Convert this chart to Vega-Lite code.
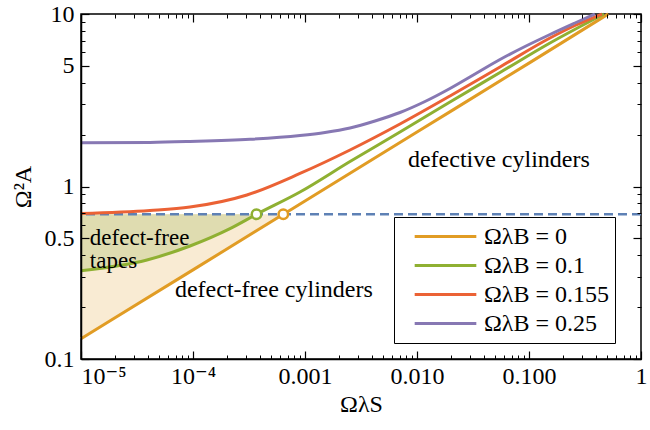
{
  "$schema": "https://vega.github.io/schema/vega-lite/v6.json",
  "width": 560,
  "height": 345,
  "autosize": {"type": "none"},
  "padding": {"left": 81, "top": 14, "right": 9, "bottom": 71},
  "background": "white",
  "datasets": {
    "curves": [
      {"series": "ΩλB = 0", "x": 0.00001, "y": 0.131},
      {"series": "ΩλB = 0", "x": 0.0001, "y": 0.3287},
      {"series": "ΩλB = 0", "x": 0.00064, "y": 0.69},
      {"series": "ΩλB = 0", "x": 0.001, "y": 0.8248},
      {"series": "ΩλB = 0", "x": 0.01, "y": 2.069},
      {"series": "ΩλB = 0", "x": 0.1, "y": 5.19},
      {"series": "ΩλB = 0", "x": 0.51, "y": 10},
      {"series": "ΩλB = 0.1", "x": 0.00001, "y": 0.325},
      {"series": "ΩλB = 0.1", "x": 0.0000388, "y": 0.375},
      {"series": "ΩλB = 0.1", "x": 0.000094, "y": 0.452},
      {"series": "ΩλB = 0.1", "x": 0.000214, "y": 0.57},
      {"series": "ΩλB = 0.1", "x": 0.000369, "y": 0.69},
      {"series": "ΩλB = 0.1", "x": 0.000902, "y": 0.929},
      {"series": "ΩλB = 0.1", "x": 0.002523, "y": 1.396},
      {"series": "ΩλB = 0.1", "x": 0.00705, "y": 2.07},
      {"series": "ΩλB = 0.1", "x": 0.0197, "y": 3.09},
      {"series": "ΩλB = 0.1", "x": 0.0551, "y": 4.58},
      {"series": "ΩλB = 0.1", "x": 0.154, "y": 6.79},
      {"series": "ΩλB = 0.1", "x": 0.467, "y": 10},
      {"series": "ΩλB = 0.155", "x": 0.00001, "y": 0.697},
      {"series": "ΩλB = 0.155", "x": 0.0000413, "y": 0.726},
      {"series": "ΩλB = 0.155", "x": 0.000094, "y": 0.76},
      {"series": "ΩλB = 0.155", "x": 0.000303, "y": 0.893},
      {"series": "ΩλB = 0.155", "x": 0.000902, "y": 1.19},
      {"series": "ΩλB = 0.155", "x": 0.002523, "y": 1.628},
      {"series": "ΩλB = 0.155", "x": 0.00705, "y": 2.303},
      {"series": "ΩλB = 0.155", "x": 0.0197, "y": 3.347},
      {"series": "ΩλB = 0.155", "x": 0.0551, "y": 4.93},
      {"series": "ΩλB = 0.155", "x": 0.154, "y": 7.26},
      {"series": "ΩλB = 0.155", "x": 0.2574, "y": 8.578},
      {"series": "ΩλB = 0.155", "x": 0.4485, "y": 10},
      {"series": "ΩλB = 0.25", "x": 0.00001, "y": 1.794},
      {"series": "ΩλB = 0.25", "x": 0.0000413, "y": 1.802},
      {"series": "ΩλB = 0.25", "x": 0.000094, "y": 1.824},
      {"series": "ΩλB = 0.25", "x": 0.000323, "y": 1.878},
      {"series": "ΩλB = 0.25", "x": 0.000902, "y": 1.975},
      {"series": "ΩλB = 0.25", "x": 0.001509, "y": 2.056},
      {"series": "ΩλB = 0.25", "x": 0.002523, "y": 2.183},
      {"series": "ΩλB = 0.25", "x": 0.004217, "y": 2.398},
      {"series": "ΩλB = 0.25", "x": 0.00705, "y": 2.685},
      {"series": "ΩλB = 0.25", "x": 0.01179, "y": 3.11},
      {"series": "ΩλB = 0.25", "x": 0.0197, "y": 3.7},
      {"series": "ΩλB = 0.25", "x": 0.03296, "y": 4.489},
      {"series": "ΩλB = 0.25", "x": 0.0551, "y": 5.447},
      {"series": "ΩλB = 0.25", "x": 0.0921, "y": 6.48},
      {"series": "ΩλB = 0.25", "x": 0.154, "y": 7.607},
      {"series": "ΩλB = 0.25", "x": 0.2574, "y": 8.867},
      {"series": "ΩλB = 0.25", "x": 0.388, "y": 10}
    ],
    "cylinders": [
      {"x": 0.00001, "y": 0.131},
      {"x": 0.0001, "y": 0.3287},
      {"x": 0.00064, "y": 0.69}
    ],
    "tapes": [
      {"x": 0.00001, "y": 0.325},
      {"x": 0.0000388, "y": 0.375},
      {"x": 0.000094, "y": 0.452},
      {"x": 0.000214, "y": 0.57},
      {"x": 0.000369, "y": 0.69}
    ],
    "crossings": [
      {"series": "ΩλB = 0.1", "x": 0.000369, "y": 0.69},
      {"series": "ΩλB = 0", "x": 0.00064, "y": 0.69}
    ]
  },
  "resolve": {"axis": {"x": "independent", "y": "independent"}},
  "layer": [
    {
      "data": {"name": "cylinders"},
      "mark": {"type": "area", "color": "#f9ebd3", "opacity": 1},
      "encoding": {
        "x": {
          "field": "x", "type": "quantitative",
          "scale": {"type": "log", "domain": [0.00001, 1], "nice": false},
          "axis": {
            "orient": "bottom", "zindex": 1,
            "values": [0.00001, 0.0001, 0.001, 0.01, 0.1, 1],
            "labelExpr": "datum.value == 0.00001 ? '10⁻⁵' : datum.value == 0.0001 ? '10⁻⁴' : datum.value == 0.001 ? '0.001' : datum.value == 0.01 ? '0.010' : datum.value == 0.1 ? '0.100' : '1'",
            "labelAlign": {"condition": {"test": "datum.value == 0.00001", "value": "left"}, "value": "center"},
            "ticks": false,
            "domainColor": "black", "domainWidth": 1.5,
            "labelFontSize": 24, "labelColor": "black",
            "labelPadding": 5, "labelFlush": false, "labelOverlap": false,
            "grid": false,
            "title": "ΩλS", "titleFontSize": 24,
            "titleFontWeight": "normal", "titleColor": "black", "titlePadding": 4
          }
        },
        "y": {
          "field": "y", "type": "quantitative",
          "scale": {"type": "log", "domain": [0.1, 10], "nice": false},
          "axis": {
            "orient": "left", "zindex": 1,
            "values": [0.1, 0.5, 1, 5, 10],
            "labelExpr": "datum.value == 0.1 ? '0.1' : datum.value == 0.5 ? '0.5' : datum.value == 1 ? '1' : datum.value == 5 ? '5' : '10'",
            "ticks": false,
            "domainColor": "black", "domainWidth": 1.5,
            "labelFontSize": 24, "labelColor": "black",
            "labelPadding": 7, "labelFlush": false, "labelOverlap": false,
            "grid": false,
            "title": "Ω²A", "titleFontSize": 24,
            "titleFontWeight": "normal", "titleColor": "black", "titlePadding": 9
          }
        },
        "y2": {"datum": 0.69}
      }
    },
    {
      "data": {"name": "tapes"},
      "mark": {"type": "area", "color": "#dfdcb0", "opacity": 1, "interpolate": "monotone"},
      "encoding": {
        "x": {
          "field": "x", "type": "quantitative",
          "scale": {"type": "log", "domain": [0.00001, 1], "nice": false},
          "axis": {
            "orient": "bottom", "zindex": 1, "offset": -8,
            "values": [0.00001, 0.0001, 0.001, 0.01, 0.1, 1],
            "labels": false, "domain": false, "grid": false, "title": null,
            "tickSize": 8, "tickColor": "black", "tickWidth": 1.2
          }
        },
        "y": {
          "field": "y", "type": "quantitative",
          "scale": {"type": "log", "domain": [0.1, 10], "nice": false},
          "axis": {
            "orient": "left", "zindex": 1, "offset": -8,
            "values": [0.1, 0.5, 1, 5, 10],
            "labels": false, "domain": false, "grid": false, "title": null,
            "tickSize": 8, "tickColor": "black", "tickWidth": 1.2
          }
        },
        "y2": {"datum": 0.69}
      }
    },
    {
      "data": {"values": [{}]},
      "mark": {"type": "rule", "color": "#5e81b5", "strokeWidth": 2.5, "strokeDash": [9, 5]},
      "encoding": {
        "y": {"datum": 0.69, "type": "quantitative", "scale": {"type": "log", "domain": [0.1, 10], "nice": false}, "axis": null}
      }
    },
    {
      "data": {"name": "curves"},
      "mark": {"type": "line", "strokeWidth": 3, "interpolate": "monotone"},
      "encoding": {
        "x": {
          "field": "x", "type": "quantitative",
          "scale": {"type": "log", "domain": [0.00001, 1], "nice": false},
          "axis": {
            "orient": "bottom", "zindex": 1, "offset": -4,
            "values": [0.00002,0.00003,0.00004,0.00005,0.00006,0.00007,0.00008,0.00009,0.0002,0.0003,0.0004,0.0005,0.0006,0.0007,0.0008,0.0009,0.002,0.003,0.004,0.005,0.006,0.007,0.008,0.009,0.02,0.03,0.04,0.05,0.06,0.07,0.08,0.09,0.2,0.3,0.4,0.5,0.6,0.7,0.8,0.9],
            "labels": false, "domain": false, "grid": false, "title": null,
            "tickSize": 4, "tickColor": "black", "tickWidth": 1
          }
        },
        "y": {
          "field": "y", "type": "quantitative",
          "scale": {"type": "log", "domain": [0.1, 10], "nice": false},
          "axis": {
            "orient": "left", "zindex": 1, "offset": -4,
            "values": [0.2,0.3,0.4,0.6,0.7,0.8,0.9,2,3,4,6,7,8,9],
            "labels": false, "domain": false, "grid": false, "title": null,
            "tickSize": 4, "tickColor": "black", "tickWidth": 1
          }
        },
        "color": {
          "field": "series", "type": "nominal",
          "scale": {
            "domain": ["ΩλB = 0", "ΩλB = 0.1", "ΩλB = 0.155", "ΩλB = 0.25"],
            "range": ["#e19c24", "#8fb032", "#eb6235", "#8778b3"]
          },
          "legend": {
            "orient": "none", "legendX": 313, "legendY": 203,
            "title": null, "direction": "vertical",
            "strokeColor": "black", "fillColor": "white", "padding": 5,
            "symbolType": "stroke", "symbolSize": 3800, "symbolStrokeWidth": 3,
            "symbolOffset": 14,
            "labelFontSize": 24, "labelColor": "black",
            "labelLimit": 0, "labelOffset": 6, "clipHeight": 29, "rowPadding": 0
          }
        }
      }
    },
    {
      "data": {"name": "crossings"},
      "mark": {"type": "point", "filled": false, "fill": "white", "fillOpacity": 1, "size": 90, "strokeWidth": 2.5, "opacity": 1},
      "encoding": {
        "x": {
          "field": "x", "type": "quantitative",
          "scale": {"type": "log", "domain": [0.00001, 1], "nice": false},
          "axis": {
            "orient": "top", "zindex": 1, "offset": -8,
            "values": [0.00001, 0.0001, 0.001, 0.01, 0.1, 1],
            "labels": false, "domain": false, "grid": false, "title": null,
            "tickSize": 8, "tickColor": "black", "tickWidth": 1.2
          }
        },
        "y": {
          "field": "y", "type": "quantitative",
          "scale": {"type": "log", "domain": [0.1, 10], "nice": false},
          "axis": {
            "orient": "right", "zindex": 1, "offset": -8,
            "values": [0.1, 0.5, 1, 5, 10],
            "labels": false, "domain": false, "grid": false, "title": null,
            "tickSize": 8, "tickColor": "black", "tickWidth": 1.2
          }
        },
        "stroke": {
          "field": "series", "type": "nominal",
          "scale": {"domain": ["ΩλB = 0", "ΩλB = 0.1"], "range": ["#e19c24", "#8fb032"]},
          "legend": null
        }
      }
    },
    {
      "data": {"values": [{}]},
      "mark": {"type": "text", "align": "left", "baseline": "middle", "fontSize": 23, "lineHeight": 23, "color": "black"},
      "encoding": {
        "x": {
          "datum": 0.000012, "type": "quantitative",
          "scale": {"type": "log", "domain": [0.00001, 1], "nice": false},
          "axis": {
            "orient": "top", "zindex": 1, "offset": -4,
            "values": [0.00002,0.00003,0.00004,0.00005,0.00006,0.00007,0.00008,0.00009,0.0002,0.0003,0.0004,0.0005,0.0006,0.0007,0.0008,0.0009,0.002,0.003,0.004,0.005,0.006,0.007,0.008,0.009,0.02,0.03,0.04,0.05,0.06,0.07,0.08,0.09,0.2,0.3,0.4,0.5,0.6,0.7,0.8,0.9],
            "labels": false, "domain": false, "grid": false, "title": null,
            "tickSize": 4, "tickColor": "black", "tickWidth": 1
          }
        },
        "y": {
          "datum": 0.506, "type": "quantitative",
          "scale": {"type": "log", "domain": [0.1, 10], "nice": false},
          "axis": {
            "orient": "right", "zindex": 1, "offset": -4,
            "values": [0.2,0.3,0.4,0.6,0.7,0.8,0.9,2,3,4,6,7,8,9],
            "labels": false, "domain": false, "grid": false, "title": null,
            "tickSize": 4, "tickColor": "black", "tickWidth": 1
          }
        },
        "text": {"value": ["defect-free", "tapes"]}
      }
    },
    {
      "data": {"values": [{}]},
      "mark": {"type": "text", "align": "left", "baseline": "middle", "fontSize": 24, "color": "black"},
      "encoding": {
        "x": {"datum": 0.000069, "type": "quantitative", "scale": {"type": "log", "domain": [0.00001, 1], "nice": false}, "axis": null},
        "y": {"datum": 0.251, "type": "quantitative", "scale": {"type": "log", "domain": [0.1, 10], "nice": false}, "axis": null},
        "text": {"value": "defect-free cylinders"}
      }
    },
    {
      "data": {"values": [{}]},
      "mark": {"type": "text", "align": "left", "baseline": "middle", "fontSize": 24, "color": "black"},
      "encoding": {
        "x": {"datum": 0.0083, "type": "quantitative", "scale": {"type": "log", "domain": [0.00001, 1], "nice": false}, "axis": null},
        "y": {"datum": 1.424, "type": "quantitative", "scale": {"type": "log", "domain": [0.1, 10], "nice": false}, "axis": null},
        "text": {"value": "defective cylinders"}
      }
    }
  ],
  "config": {
    "font": "Liberation Serif, Times New Roman, DejaVu Serif, serif",
    "axis": {"labelFont": "Liberation Serif, Times New Roman, DejaVu Serif, serif", "titleFont": "Liberation Serif, Times New Roman, DejaVu Serif, serif"},
    "legend": {"labelFont": "Liberation Serif, Times New Roman, DejaVu Serif, serif"},
    "text": {"font": "Liberation Serif, Times New Roman, DejaVu Serif, serif"},
    "view": {"stroke": "black", "strokeWidth": 1.5}
  }
}
